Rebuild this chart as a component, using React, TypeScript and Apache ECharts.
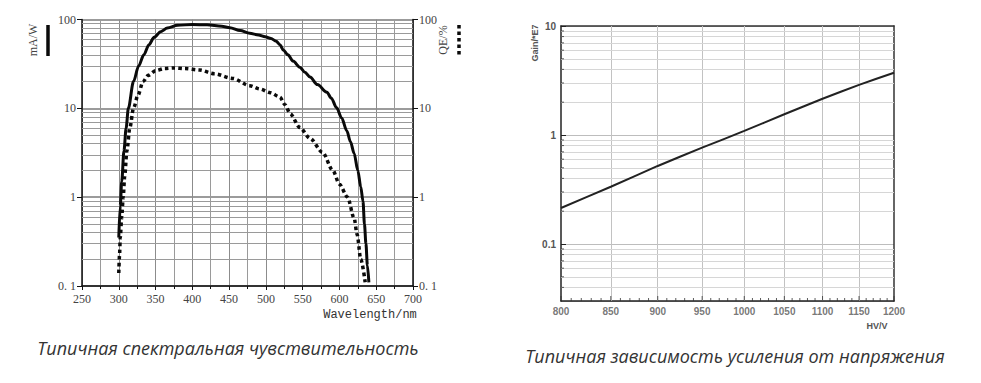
import React, { useEffect, useRef } from "react";
import * as echarts from "echarts";

// ---- Left chart: typical spectral sensitivity ----
const respWl = [300, 302, 304, 307, 310, 313, 320, 327, 334, 341, 348, 357, 366, 380, 400, 420, 440, 451, 465, 478, 490, 499, 507, 514, 519, 524, 530, 537, 546, 553, 560, 570, 583, 589, 596, 603, 610, 615, 620, 625, 629, 632, 634, 636, 638, 640];
const respMaW = [0.35, 0.8, 1.5, 3.3, 6, 10, 20, 30, 40, 52, 63, 73, 80, 86, 88, 87, 84, 81, 75, 70, 67, 64, 61, 57, 52, 45, 40, 34, 29, 25.5, 22.5, 18.5, 15.2, 13, 10.2, 7.8, 5.6, 4.2, 3.1, 2, 1.3, 0.9, 0.5, 0.3, 0.17, 0.11];

const qeWl = [300, 301, 302, 304, 306, 308, 311, 315, 320, 326, 333, 340, 350, 362, 375, 390, 410, 430, 455, 478, 492, 506, 519, 526, 533, 546, 560, 577, 591, 600, 611, 620, 624, 629, 635];
const qePct = [0.14, 0.22, 0.35, 0.6, 1, 1.7, 3.3, 6, 10, 14, 20, 23.5, 26.5, 28, 28.5, 28, 27, 24.5, 21.7, 18, 16.5, 15, 13.4, 11, 8.7, 6.1, 4.6, 3.2, 2, 1.4, 1, 0.58, 0.38, 0.2, 0.11];

const leftLogMinor = [0.2, 0.3, 0.4, 0.5, 0.6, 0.7, 0.8, 0.9, 2, 3, 4, 5, 6, 7, 8, 9, 20, 30, 40, 50, 60, 70, 80, 90];

// ---- Right chart: typical gain vs. voltage ----
const hvV = [800, 850, 900, 950, 1000, 1050, 1100, 1150, 1200];
const gainE7 = [0.214, 0.335, 0.52, 0.765, 1.09, 1.55, 2.15, 2.88, 3.73];

const hvTickLabels = [800, 850, 900, 950, 1000, 1050, 1100, 1150, 1200];
const hvGridLines = [850, 900, 950, 1000, 1050, 1100, 1150];
const hvMinorTicks = [810, 820, 830, 840, 860, 870, 880, 890, 910, 920, 930, 940, 960, 970, 980, 990, 1010, 1020, 1030, 1040, 1060, 1070, 1080, 1090, 1110, 1120, 1130, 1140, 1160, 1170, 1180, 1190];
const rightLogMinor = [0.04, 0.05, 0.06, 0.07, 0.08, 0.09, 0.2, 0.3, 0.4, 0.5, 0.6, 0.7, 0.8, 0.9, 2, 3, 4, 5, 6, 7, 8, 9];
const gainMin = 0.03;
const gainMax = 10;

const SERIF = "'Liberation Serif', 'DejaVu Serif', serif";
const SANS = "'Liberation Sans', Arial, sans-serif";

export default function App() {
  const ref = useRef<HTMLDivElement>(null);

  useEffect(() => {
    if (!ref.current) return;
    const chart = echarts.init(ref.current, undefined, { renderer: "svg" });

    const leftLabelFmt = (v: number) => {
      if (v < 0.5) return "0. 1";
      return String(Math.round(v));
    };
    const rightLabelFmt = (v: number) => {
      if (v < 0.5) return "0.1";
      return String(Math.round(v));
    };

    const center = { textAlign: "center", textVerticalAlign: "middle", align: "center", verticalAlign: "middle" };

    const option: any = {
      animation: false,
      backgroundColor: "#ffffff",
      textStyle: { color: "#444" },
      grid: [
        { left: 82, top: 19.5, width: 331, height: 266.5 },
        { left: 561, top: 26, width: 333, height: 275 },
      ],
      xAxis: [
        {
          type: "value",
          gridIndex: 0,
          min: 250,
          max: 700,
          interval: 50,
          axisLine: { show: true, lineStyle: { color: "#111", width: 1.5 } },
          axisTick: { show: true, inside: false, length: 4, lineStyle: { color: "#111" } },
          minorTick: { show: true, splitNumber: 2, length: 3, lineStyle: { color: "#111" } },
          axisLabel: { color: "#444", fontFamily: SERIF, fontSize: 12, margin: 7 },
          splitLine: { show: true, lineStyle: { color: "#8c8c8c", width: 1 } },
          minorSplitLine: { show: true, lineStyle: { color: "#9a9a9a", width: 1 } },
        },
        {
          type: "log",
          gridIndex: 1,
          min: 800,
          max: 1200,
          axisLine: { show: true, lineStyle: { color: "#222", width: 1.5 } },
          axisTick: { show: false },
          axisLabel: { show: false },
          splitLine: { show: false },
        },
        {
          type: "log",
          gridIndex: 1,
          position: "top",
          min: 800,
          max: 1200,
          axisLine: { show: true, onZero: false, lineStyle: { color: "#333", width: 1.5 } },
          axisTick: { show: false },
          axisLabel: { show: false },
          splitLine: { show: false },
        },
      ],
      yAxis: [
        {
          type: "log",
          gridIndex: 0,
          logBase: 10,
          min: 0.1,
          max: 100,
          axisLine: { show: true, lineStyle: { color: "#111", width: 1.5 } },
          axisTick: { show: true, inside: false, length: 5, lineStyle: { color: "#111" } },
          axisLabel: { color: "#444", fontFamily: SERIF, fontSize: 12, margin: 6, formatter: leftLabelFmt },
          splitLine: { show: true, lineStyle: { color: "#7a7a7a", width: 1.5 } },
        },
        {
          type: "log",
          gridIndex: 0,
          position: "right",
          logBase: 10,
          min: 0.1,
          max: 100,
          axisLine: { show: true, onZero: false, lineStyle: { color: "#111", width: 1.5 } },
          axisTick: { show: true, inside: false, length: 5, lineStyle: { color: "#111" } },
          axisLabel: { color: "#444", fontFamily: SERIF, fontSize: 12, margin: 6, formatter: leftLabelFmt },
          splitLine: { show: false },
        },
        {
          type: "log",
          gridIndex: 1,
          logBase: 10,
          min: gainMin,
          max: gainMax,
          axisLine: { show: true, lineStyle: { color: "#222", width: 1.5 } },
          axisTick: { show: true, inside: true, length: 5, lineStyle: { color: "#222" } },
          axisLabel: {
            color: "#555",
            fontFamily: SANS,
            fontWeight: "bold",
            fontSize: 10,
            margin: 5,
            showMinLabel: false,
            formatter: rightLabelFmt,
          },
          splitLine: { show: true, lineStyle: { color: "#bdbdbd", width: 1 } },
        },
        {
          type: "log",
          gridIndex: 1,
          position: "right",
          logBase: 10,
          min: gainMin,
          max: gainMax,
          axisLine: { show: true, onZero: false, lineStyle: { color: "#333", width: 1.5 } },
          axisTick: { show: false },
          axisLabel: { show: false },
          splitLine: { show: false },
        },
      ],
      series: [
        // left minor log grid lines
        {
          type: "line",
          xAxisIndex: 0,
          yAxisIndex: 0,
          data: [],
          z: 1,
          silent: true,
          markLine: {
            silent: true,
            symbol: ["none", "none"],
            label: { show: false },
            emphasis: { disabled: true },
            lineStyle: { color: "#9a9a9a", width: 1, type: "solid" },
            data: leftLogMinor.map((v) => ({ yAxis: v })),
          },
        },
        {
          name: "mA/W",
          type: "line",
          xAxisIndex: 0,
          yAxisIndex: 0,
          z: 5,
          showSymbol: false,
          smooth: 0.3,
          smoothMonotone: "x",
          lineStyle: { color: "#0a0a0a", width: 3 },
          data: respWl.map((w, i) => [w, respMaW[i]]),
        },
        {
          name: "QE/%",
          type: "line",
          xAxisIndex: 0,
          yAxisIndex: 1,
          z: 5,
          showSymbol: false,
          smooth: 0.3,
          smoothMonotone: "x",
          lineStyle: { color: "#0a0a0a", width: 3.5, type: [3.5, 3.2], cap: "butt" },
          data: qeWl.map((w, i) => [w, qePct[i]]),
        },
        // right grid lines
        {
          type: "line",
          xAxisIndex: 1,
          yAxisIndex: 2,
          data: [],
          z: 1,
          silent: true,
          markLine: {
            silent: true,
            symbol: ["none", "none"],
            label: { show: false },
            emphasis: { disabled: true },
            lineStyle: { color: "#d6d6d6", width: 1, type: "solid" },
            data: [
              ...hvGridLines.map((v) => [
                { coord: [v, gainMin], lineStyle: { color: "#c2c2c2", width: 1, type: "solid" } },
                { coord: [v, gainMax] },
              ]),
              ...rightLogMinor.map((v) => [{ coord: [800, v] }, { coord: [1200, v] }]),
            ],
          },
        },
        {
          name: "Gain",
          type: "line",
          xAxisIndex: 1,
          yAxisIndex: 2,
          z: 5,
          showSymbol: false,
          smooth: 0.2,
          lineStyle: { color: "#222", width: 2 },
          data: hvV.map((v, i) => [v, gainE7[i]]),
        },
        // right x minor ticks
        {
          type: "scatter",
          xAxisIndex: 1,
          yAxisIndex: 2,
          z: 6,
          silent: true,
          clip: false,
          symbol: "rect",
          symbolSize: [1, 3],
          symbolOffset: [0, -1.5],
          itemStyle: { color: "#333" },
          data: hvMinorTicks.map((v) => [v, gainMin]),
        },
        // right x major ticks and labels
        {
          type: "scatter",
          xAxisIndex: 1,
          yAxisIndex: 2,
          z: 6,
          silent: true,
          clip: false,
          symbol: "rect",
          symbolSize: [1, 5],
          symbolOffset: [0, -2.5],
          itemStyle: { color: "#333" },
          label: {
            show: true,
            position: "bottom",
            distance: 5,
            formatter: (p: any) => String(p.value[0]),
            color: "#555",
            fontFamily: SANS,
            fontWeight: "bold",
            fontSize: 10,
          },
          data: hvTickLabels.map((v) => [v, gainMin]),
        },
        // right y minor ticks
        {
          type: "scatter",
          xAxisIndex: 1,
          yAxisIndex: 2,
          z: 6,
          silent: true,
          clip: false,
          symbol: "rect",
          symbolSize: [3, 1],
          symbolOffset: [1.5, 0],
          itemStyle: { color: "#333" },
          data: rightLogMinor.map((v) => [800, v]),
        },
      ],
      graphic: [
        {
          type: "text",
          x: 33,
          y: 40,
          rotation: Math.PI / 2,
          style: { text: "mA/W", font: `12px ${SERIF}`, fill: "#444", ...center },
        },
        {
          type: "line",
          shape: { x1: 48, y1: 25, x2: 48, y2: 56 },
          style: { stroke: "#0a0a0a", lineWidth: 3.5 },
        },
        {
          type: "text",
          x: 443,
          y: 40,
          rotation: Math.PI / 2,
          style: { text: "QE/%", font: `12px ${SERIF}`, fill: "#444", ...center },
        },
        {
          type: "line",
          shape: { x1: 459, y1: 25, x2: 459, y2: 55 },
          style: { stroke: "#0a0a0a", lineWidth: 3.5, lineDash: [3.5, 3] },
        },
        {
          type: "text",
          x: 370,
          y: 315,
          style: { text: "Wavelength/nm", font: `12px 'Liberation Mono', 'DejaVu Sans Mono', monospace`, fill: "#333", ...center },
        },
        {
          type: "text",
          x: 535,
          y: 43,
          rotation: Math.PI / 2,
          style: { text: "Gain/*E7", font: `bold 9px ${SANS}`, fill: "#555", ...center },
        },
        {
          type: "text",
          x: 877,
          y: 326,
          style: { text: "HV/V", font: `bold 9px ${SANS}`, fill: "#555", ...center },
        },
        {
          type: "text",
          x: 228,
          y: 348,
          style: { text: "Типичная спектральная чувствительность", font: `italic 18px 'Open Sans', 'Noto Sans', sans-serif`, fill: "#333", ...center },
        },
        {
          type: "text",
          x: 735,
          y: 356,
          style: { text: "Типичная зависимость усиления от напряжения", font: `italic 18px 'Open Sans', 'Noto Sans', sans-serif`, fill: "#333", ...center },
        },
      ],
    };

    chart.setOption(option);
    return () => chart.dispose();
  }, []);

  return (
    <div
      ref={ref}
      style={{ position: "fixed", left: 0, top: 0, width: 981, height: 383, background: "#fff" }}
    />
  );
}
